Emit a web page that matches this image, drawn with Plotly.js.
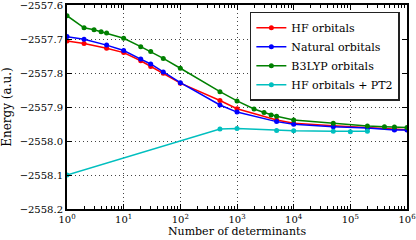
<!DOCTYPE html>
<html>
<head>
<meta charset="utf-8">
<script src="https://cdn.plot.ly/plotly-3.0.1.min.js"></script>
<style>html,body{margin:0;padding:0;background:#fff;}#chart{width:416px;height:240px;}</style>
</head>
<body>
<div id="chart"></div>
<script>
// Data
const hfX = [1, 2, 5, 10, 20, 30, 50, 100, 500, 1000, 5000, 1e4, 5e4, 2e5, 6e5, 1e6];
const hfY = [-2557.706, -2557.713, -2557.727, -2557.740, -2557.764, -2557.781, -2557.801, -2557.830, -2557.881, -2557.905, -2557.938, -2557.948, -2557.955, -2557.961, -2557.966, -2557.967];

const natX = [1, 2, 5, 10, 20, 30, 50, 100, 500, 1000, 5000, 1e4, 5e4, 2e5, 6e5, 1e6];
const natY = [-2557.693, -2557.701, -2557.718, -2557.734, -2557.759, -2557.7735, -2557.797, -2557.8285, -2557.894, -2557.915, -2557.943, -2557.951, -2557.958, -2557.962, -2557.9676, -2557.968];

const b3X = [1, 2, 3, 4, 5, 10, 20, 30, 50, 100, 500, 1000, 2000, 3000, 4000, 5000, 1e4, 5e4, 2e5, 4e5, 6e5, 1e6];
const b3Y = [-2557.6315, -2557.667, -2557.673, -2557.679, -2557.682, -2557.698, -2557.7226, -2557.737, -2557.757, -2557.786, -2557.855, -2557.882, -2557.906, -2557.916, -2557.9235, -2557.927, -2557.938, -2557.948, -2557.956, -2557.958, -2557.959, -2557.960];

const pt2X = [1, 500, 1000, 5000, 1e4, 5e4, 1e5, 2e5];
const pt2Y = [-2558.100, -2557.9647, -2557.963, -2557.969, -2557.970, -2557.9716, -2557.9726, -2557.9716];

const seriesNames = ["HF orbitals", "Natural orbitals", "B3LYP orbitals", "HF orbitals + PT2"];
const xTickVals = [1, 10, 100, 1000, 1e4, 1e5, 1e6];
const xTickText = ["10<sup>0</sup>", "10<sup>1</sup>", "10<sup>2</sup>", "10<sup>3</sup>", "10<sup>4</sup>", "10<sup>5</sup>", "10<sup>6</sup>"];

const minorVals = [];
for (let d = 0; d < 6; d++) {
  for (let m = 2; m <= 9; m++) minorVals.push(m * Math.pow(10, d));
}

const FONT = "DejaVu Serif";
function tr(x, y, name, color) {
  return {x: x, y: y, name: name, type: 'scatter', mode: 'lines+markers',
    line: {color: color, width: 1.5}, marker: {color: color, size: 5}};
}
const data = [
  tr(hfX, hfY, seriesNames[0], '#ff0000'),
  tr(natX, natY, seriesNames[1], '#0000ff'),
  tr(b3X, b3Y, seriesNames[2], '#008000'),
  tr(pt2X, pt2Y, seriesNames[3], '#00bfbf')
];

const axisCommon = {
  showline: true, linecolor: '#000', linewidth: 2, mirror: 'ticks',
  ticks: 'inside', ticklen: 5, tickcolor: '#000', tickwidth: 1,
  showgrid: true, gridcolor: '#444', griddash: '1px,3px', gridwidth: 1,
  zeroline: false, tickfont: {family: FONT, size: 10, color: '#000'},
  ticklabeloverflow: 'allow'
};

const layout = {
  width: 416, height: 240,
  margin: {l: 67, r: 9, t: 5, b: 31},
  paper_bgcolor: '#fff', plot_bgcolor: '#fff',
  font: {family: FONT, size: 10, color: '#000'},
  showlegend: true,
  legend: {x: 0.979, xanchor: 'right', y: 0.967, yanchor: 'top',
    bgcolor: '#fff', bordercolor: '#222', borderwidth: 1.5,
    font: {family: FONT, size: 11, color: '#000'}, tracegroupgap: 0},
  xaxis: Object.assign({}, axisCommon, {
    type: 'log', range: [0, 6], tickmode: 'array', tickvals: xTickVals, ticktext: xTickText,
    minor: {tickmode: 'array', tickvals: minorVals, ticks: 'inside', ticklen: 3, tickcolor: '#000', showgrid: false},
    title: {text: 'Number of determinants', font: {family: FONT, size: 11, color: '#000'}, standoff: 0}
  }),
  yaxis: Object.assign({}, axisCommon, {
    range: [-2558.2, -2557.6], dtick: 0.1, tick0: -2558.2, tickformat: '.1f',
    title: {text: 'Energy (a.u.)', font: {family: FONT, size: 12, color: '#000'}, standoff: 6}
  })
};

Plotly.newPlot('chart', data, layout, {staticPlot: true, displayModeBar: false});
</script>
</body>
</html>
